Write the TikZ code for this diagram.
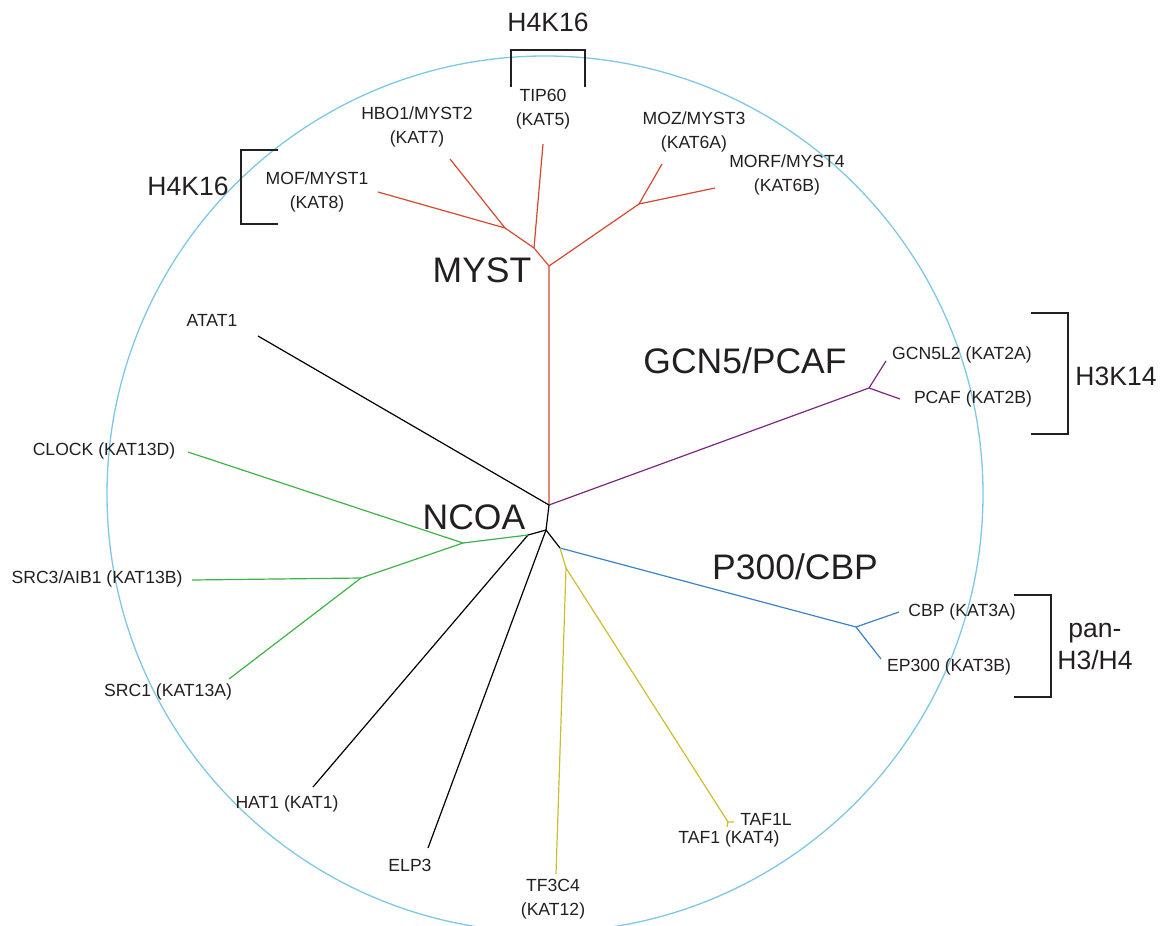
\documentclass[tikz,border=0pt]{standalone}
\usepackage{fontspec}
\setmainfont{Liberation Sans}
\definecolor{myst}{RGB}{214,72,43}
\definecolor{gcn}{RGB}{122,40,125}
\definecolor{pcbp}{RGB}{58,131,200}
\definecolor{ncoa}{RGB}{60,180,72}
\definecolor{taf}{RGB}{205,190,45}
\definecolor{ring}{RGB}{125,200,230}
\definecolor{ink}{RGB}{35,31,32}
\tikzset{
  gene/.style={font=\fontsize{17.6}{24}\selectfont, text=ink, align=center, inner sep=0pt},
  family/.style={font=\fontsize{35.5}{40}\selectfont, text=ink, inner sep=0pt},
  histone/.style={font=\fontsize{26.5}{32}\selectfont, text=ink, align=center, inner sep=0pt},
  branch/.style={line width=1.2pt, line join=round},
  bracket/.style={line width=1.5pt, draw=ink},
}
\begin{document}
\begin{tikzpicture}[x=1pt, y=-1pt]
\useasboundingbox (0,0) rectangle (1162,926);
\draw [ring, line width=1.3pt] (545,494) circle [radius=438pt];
% inner junctions
\coordinate (j0) at (549,505);
\coordinate (j1) at (546,530);
\coordinate (j2) at (528,535);
\coordinate (j3) at (560,548);
% MYST
\coordinate (mj) at (549,266);
\coordinate (ma) at (534,248);
\coordinate (mb) at (505,228);
\coordinate (mc) at (639,204);
\coordinate (tip) at (543,144);
\coordinate (hbo) at (450,159);
\coordinate (mof) at (378,192);
\coordinate (moz) at (662,164);
\coordinate (morf) at (715,188);
% GCN5/PCAF
\coordinate (gj) at (869,388);
\coordinate (gcnl) at (886,361);
\coordinate (pcaf) at (900,399);
% P300/CBP
\coordinate (pj) at (856,627);
\coordinate (cbp) at (899,612);
\coordinate (ep) at (881,659);
% NCOA
\coordinate (nj) at (463,543);
\coordinate (sj) at (361,578);
\coordinate (clock) at (188,452);
\coordinate (src3) at (192,580);
\coordinate (src1) at (229,679);
% TAF1 / TF3C4
\coordinate (yj) at (566,568);
\coordinate (tf) at (556,874);
\coordinate (tj) at (728,822);
\coordinate (tafl) at (734,822);
\coordinate (taf) at (727,827);
% others
\coordinate (atat) at (258,336);
\coordinate (hat) at (313,787);
\coordinate (elp) at (428,848);

\draw [branch, myst] (j0) -- (mj) -- (ma) -- (mb) -- (mof);
\draw [branch, myst] (mb) -- (hbo);
\draw [branch, myst] (ma) -- (tip);
\draw [branch, myst] (mj) -- (mc) -- (moz);
\draw [branch, myst] (mc) -- (morf);
\draw [branch, gcn] (j0) -- (gj) -- (gcnl);
\draw [branch, gcn] (gj) -- (pcaf);
\draw [branch] (atat) -- (j0) -- (j1) -- (j2) -- (hat);
\draw [branch] (j1) -- (elp);
\draw [branch] (j1) -- (j3);
\draw [branch, pcbp] (j3) -- (pj) -- (cbp);
\draw [branch, pcbp] (pj) -- (ep);
\draw [branch, ncoa] (j2) -- (nj) -- (clock);
\draw [branch, ncoa] (nj) -- (sj) -- (src3);
\draw [branch, ncoa] (sj) -- (src1);
\draw [branch, taf] (j3) -- (yj) -- (tf);
\draw [branch, taf] (yj) -- (tj) -- (tafl);
\draw [branch, taf] (tj) -- (taf);

% leaves
\node [gene] (tipl) at (543,109) {TIP60\\(KAT5)};
\node [gene] (hbol) at (417,127) {HBO1/MYST2\\(KAT7)};
\node [gene] (mofl) at (317,192) {MOF/MYST1\\(KAT8)};
\node [gene] (mozl) at (694,132) {MOZ/MYST3\\(KAT6A)};
\node [gene] (morfl) at (787,175) {MORF/MYST4\\(KAT6B)};
\node [gene] (atatl) at (212,320) {ATAT1};
\node [gene] (gcnll) at (962,355) {GCN5L2 (KAT2A)};
\node [gene] (pcafl) at (973,399) {PCAF (KAT2B)};
\node [gene] (cbpl) at (962,612) {CBP (KAT3A)};
\node [gene] (epl) at (949,667) {EP300 (KAT3B)};
\node [gene] (clockl) at (104,451) {CLOCK (KAT13D)};
\node [gene] (src3l) at (97,579) {SRC3/AIB1 (KAT13B)};
\node [gene] (src1l) at (168,692) {SRC1 (KAT13A)};
\node [gene] (hatl) at (287,804) {HAT1 (KAT1)};
\node [gene] (elpl) at (410,865) {ELP3};
\node [gene] (tfl) at (553,899) {TF3C4\\(KAT12)};
\node [gene] (tafll) at (766,819) {TAF1L};
\node [gene] (tafl1) at (729,839) {TAF1 (KAT4)};

% families
\node [family] (mystl) at (482,270) {MYST};
\node [family] (gcnf) at (745,361) {GCN5/PCAF};
\node [family] (p300) at (795,567) {P300/CBP};
\node [family] (ncoal) at (474,517) {NCOA};

% histone marks
\node [histone] (h4top) at (548,22) {H4K16};
\node [histone] (h4left) at (188,186) {H4K16};
\node [histone] (h3) at (1116,376) {H3K14};
\node [histone] (pan) at (1095,646) {pan-\\H3/H4};
\draw [bracket] (511,87) -- (511,50) -- (585,50) -- (585,87);
\draw [bracket] (278,150) -- (241,150) -- (241,224) -- (278,224);
\draw [bracket] (1031,313) -- (1068,313) -- (1068,434) -- (1031,434);
\draw [bracket] (1014,595) -- (1051,595) -- (1051,697) -- (1014,697);
\end{tikzpicture}
\end{document}
